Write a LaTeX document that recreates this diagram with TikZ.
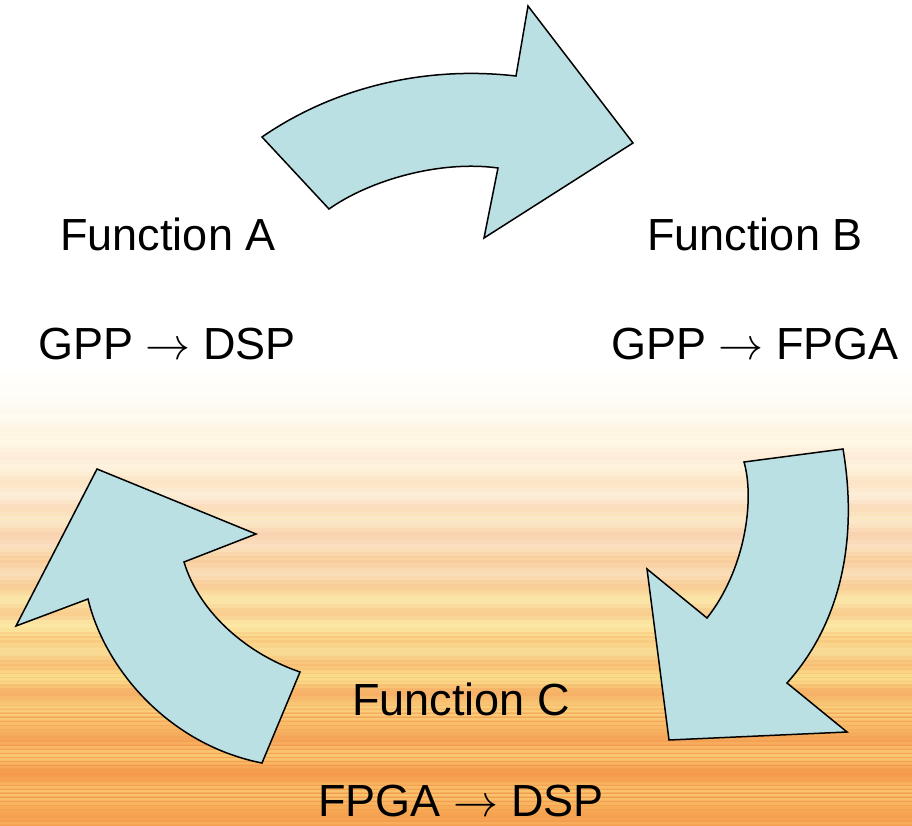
\documentclass[tikz,border=0pt]{standalone}
\usepackage{graphicx}
\usepackage{fontspec}
\setmainfont{Liberation Sans}
\newcommand{\goesto}{\scalebox{1.81}{$\rightarrow$}}
\begin{document}
\begin{tikzpicture}[x=1pt,y=-1pt,
  cyclearrow/.style={fill=arrowfill,draw=black,line width=1.5pt,line join=miter},
  label/.style={anchor=base,inner sep=0pt,font=\fontsize{45}{54}\selectfont}]
\definecolor{arrowfill}{RGB}{187,224,227}
\definecolor{bgA}{RGB}{255,255,255}
\definecolor{bgB}{RGB}{255,249,233}
\definecolor{bgC}{RGB}{252,232,208}
\definecolor{bgD}{RGB}{250,218,188}
\definecolor{bgE}{RGB}{252,233,170}
\definecolor{bgF}{RGB}{249,207,130}
\definecolor{bgG}{RGB}{248,180,100}
\definecolor{bgH}{RGB}{246,160,80}
\definecolor{bgI}{RGB}{247,166,82}
\definecolor{streakwarm}{RGB}{242,145,75}
\definecolor{streaklight}{RGB}{255,238,145}
\useasboundingbox (0,0) rectangle (912,826);
% sky: white above, warming to orange below
\fill[bgA] (0,0) rectangle (912,366);
\shade[top color=bgA,bottom color=bgB] (0,365) rectangle (912,441);
\shade[top color=bgB,bottom color=bgC] (0,440) rectangle (912,521);
\shade[top color=bgC,bottom color=bgD] (0,520) rectangle (912,561);
\shade[top color=bgD,bottom color=bgE] (0,560) rectangle (912,621);
\shade[top color=bgE,bottom color=bgF] (0,620) rectangle (912,681);
\shade[top color=bgF,bottom color=bgG] (0,680) rectangle (912,721);
\shade[top color=bgG,bottom color=bgH] (0,720) rectangle (912,761);
\shade[top color=bgH,bottom color=bgI] (0,760) rectangle (912,826);
% horizontal streaks
\foreach \y in {400,404,...,824}{
  \pgfmathsetmacro\wa{min(1,(\y-400)/300)*0.42*(0.5+0.5*sin(\y*13.7))}
  \pgfmathsetmacro\wb{min(1,(\y-400)/300)*0.50*(0.5+0.5*cos(\y*9.1))}
  \fill[streakwarm,opacity=\wa] (0,\y) rectangle (912,\y+4);
  \fill[streaklight,opacity=\wb] (0,\y+2) rectangle (912,\y+5);
}
% three curved arrows forming the cycle
\draw[cyclearrow] (262,137) .. controls (330,90) and (420,65) .. (516,76)
  -- (528,6) -- (633,143) -- (484,238) -- (498,168)
  .. controls (440,160) and (370,180) .. (329,209) -- cycle;
\draw[cyclearrow] (843,449) .. controls (856,525) and (848,615) .. (787,683)
  -- (847,732) -- (669,740) -- (647,569) -- (707,618)
  .. controls (745,570) and (755,500) .. (744,462) -- cycle;
\draw[cyclearrow] (262,763) .. controls (170,745) and (105,670) .. (88,599)
  -- (16,626) -- (97,469) -- (256,534) -- (184,562)
  .. controls (200,615) and (250,655) .. (300,672) -- cycle;
% labels
\node[label] (fa) at (168,251) {Function A};
\node[label] (ma) at (167,359) {GPP \goesto{} DSP};
\node[label] (fb) at (755,251) {Function B};
\node[label] (mb) at (755,359) {GPP \goesto{} FPGA};
\node[label] (fc) at (461,715) {Function C};
\node[label] (mc) at (461,816) {FPGA \goesto{} DSP};
\end{tikzpicture}
\end{document}
